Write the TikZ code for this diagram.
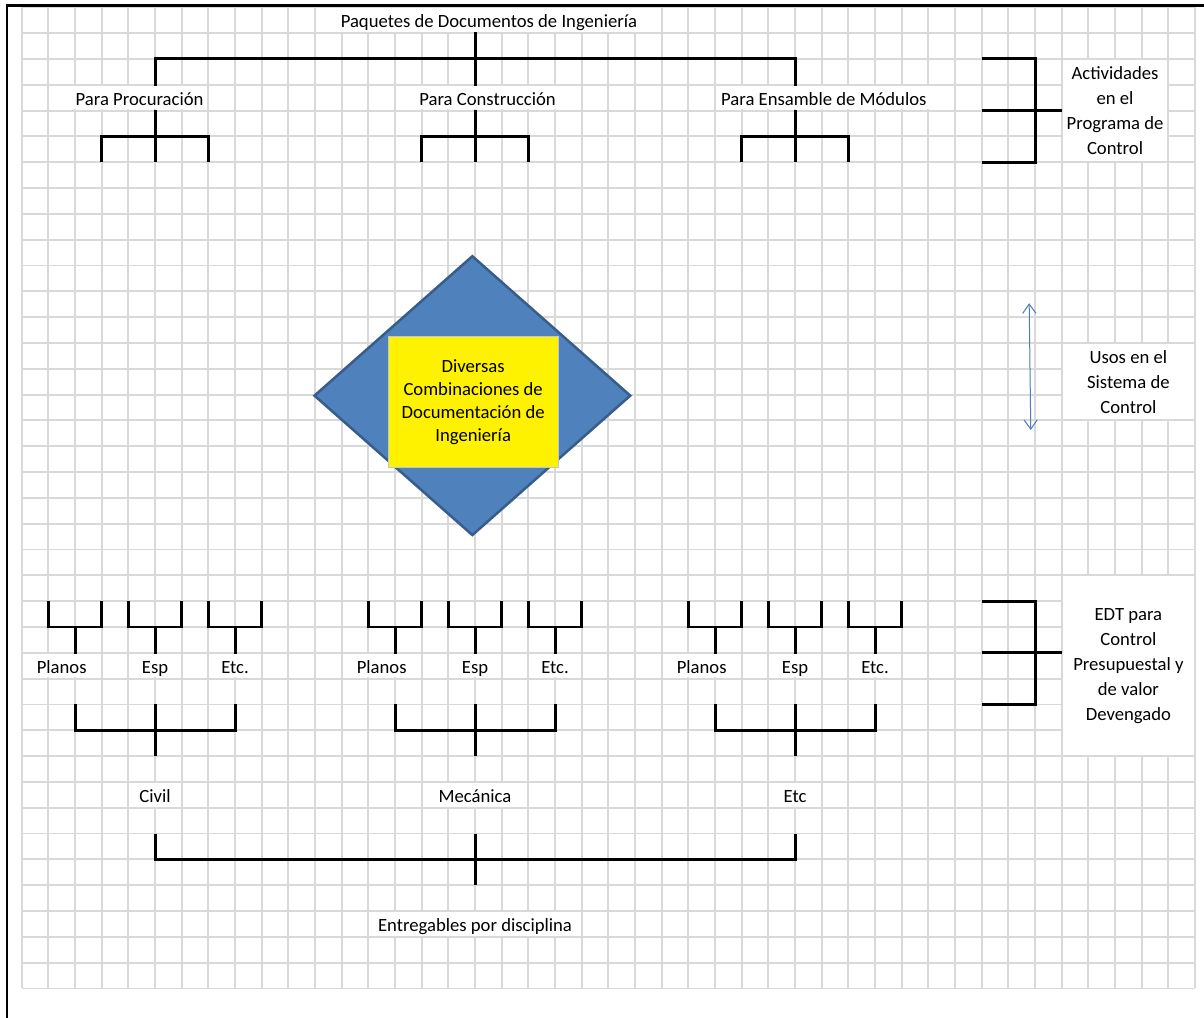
\documentclass[tikz,border=0pt]{standalone}
\usepackage{fontspec}
\setmainfont{Carlito}
\usetikzlibrary{arrows.meta, shapes.geometric}

\definecolor{gridgray}{HTML}{D9D9D9}
\definecolor{rombofill}{HTML}{4F81BD}
\definecolor{romboedge}{HTML}{385D8A}
\definecolor{usosblue}{HTML}{4A7EBB}
\definecolor{comboedge}{HTML}{BCC8D8}

\tikzset{
  gridline/.style={draw=gridgray, line width=1.4pt},
  frame/.style={draw=black, line width=2pt},
  tree/.style={draw=black, line width=2.2pt},
  txtcell/.style={
    fill=white,
    inner xsep=2pt,
    inner ysep=0pt,
    minimum height=17.6pt,
    text height=14.2pt,
    text depth=3pt,
    font=\fontsize{14}{18}\selectfont
  },
  sidenote/.style={
    fill=white,
    align=center,
    inner sep=0pt,
    minimum width=98.6pt,
    font=\fontsize{14}{18.75}\selectfont
  },
  rombo/.style={
    diamond,
    fill=rombofill,
    draw=romboedge,
    line width=1.9pt,
    inner sep=0pt,
    minimum width=237.6pt,
    minimum height=209.9pt
  },
  combo/.style={
    rectangle,
    fill=yellow,
    draw=comboedge,
    line width=0.75pt,
    align=center,
    minimum width=127.5pt,
    minimum height=98.2pt,
    font=\fontsize{14}{17.25}\selectfont
  },
  dblarrow/.style={
    draw=usosblue,
    line width=0.75pt,
    {Straight Barb[length=7pt,width=10pt]}-{Straight Barb[length=7pt,width=10pt]}
  }
}

\begin{document}
\begin{tikzpicture}[x=20pt, y=-19.365pt]
  \useasboundingbox (-0.814,-0.283) rectangle (44.336,39.144);
  \fill[white] (-0.814,-0.283) rectangle (44.336,39.144);

  % hoja cuadriculada
  \foreach \col in {0,...,44} \draw[gridline] (\col,0) -- (\col,38);
  \foreach \row in {0,...,38} \draw[gridline] (0,\row) -- (44,\row);
  \draw[frame] (-0.551,40) -- (-0.551,-0.07) -- (45,-0.07);

  % paquetes de documentos
  \node[txtcell] (title) at (17.52,0.5) {Paquetes de Documentos de Ingeniería};
  \node[txtcell] (procur) at (4.42,3.5) {Para Procuración};
  \node[txtcell] (constr) at (17.47,3.5) {Para Construcción};
  \node[txtcell] (ensam) at (30.08,3.5) {Para Ensamble de Módulos};

  \coordinate (split) at (17,2);
  \coordinate (lsplit) at (5,2);
  \coordinate (rsplit) at (29,2);
  \draw[tree] (title.south -| split) -- (constr.north -| split);
  \draw[tree] (procur.north -| lsplit) -- (lsplit) -- (rsplit) -- (ensam.north -| rsplit);
  \foreach \nm/\cx in {procur/5, constr/17, ensam/29}{
    \draw[tree] (\nm.south -| \cx,0) -- (\cx,6);
    \draw[tree] (\cx-2,6) -- (\cx-2,5) -- (\cx+2,5) -- (\cx+2,6);
  }

  % combinaciones
  \node[rombo] (rombo) at (16.9,15.04) {};
  \node[combo] (combo) at (16.93,15.29) {\rule{0pt}{3pt}Diversas\\Combinaciones de\\Documentación de\\Ingeniería};

  % entregables por disciplina
  \foreach \gx/\grp/\disc in {0/civ/Civil, 12/mec/Mecánica, 24/otr/Etc}{
    \node[txtcell] (plan\grp) at (\gx+1.5,25.5) {Planos};
    \node[txtcell] (esp\grp) at (\gx+5,25.5) {Esp};
    \node[txtcell] (etc\grp) at (\gx+8,25.5) {Etc.};
    \node[txtcell] (\grp) at (\gx+5,30.5) {\disc};
    \foreach \kx/\nm in {1/plan, 4/esp, 7/etc}
      \draw[tree] (\gx+\kx,23) -- (\gx+\kx,24) -- (\gx+\kx+2,24) -- (\gx+\kx+2,23)
                  (\gx+\kx+1,24) -- (\nm\grp.north -| \gx+\kx+1,0);
    \draw[tree] (\gx+2,27) -- (\gx+2,28) -- (\gx+8,28) -- (\gx+8,27)
                (\gx+5,27) -- (\gx+5,29);
  }
  \node[txtcell] (entreg) at (17,35.5) {Entregables por disciplina};
  \draw[tree] (5,32) -- (5,33) -- (29,33) -- (29,32);
  \draw[tree] (17,32) -- (entreg.north |- 17,34);

  % notas laterales
  \node[sidenote, minimum width=78.6pt, minimum height=76.1pt] (activ) at (41,4) {\rule{0pt}{4pt}Actividades\\en el\\Programa de\\Control};
  \node[sidenote, minimum height=56.7pt] (usos) at (41.5,14.5) {Usos en el\\Sistema de\\Control};
  \node[sidenote, minimum height=134.2pt] (edt) at (41.5,25.5) {\rule{0pt}{4pt}EDT para\\Control\\Presupuestal y\\de valor\\Devengado};

  \draw[tree] (36,2) -- (38,2) -- (38,6) -- (36,6) (36,4) -- (activ.west);
  \draw[tree] (36,23) -- (38,23) -- (38,27) -- (36,27) (36,25) -- (edt.west |- 36,25);

  \coordinate (usotop) at (37.78,11.46);
  \coordinate (usobot) at (37.84,16.37);
  \draw[dblarrow] (usotop) -- (usobot);
\end{tikzpicture}
\end{document}
